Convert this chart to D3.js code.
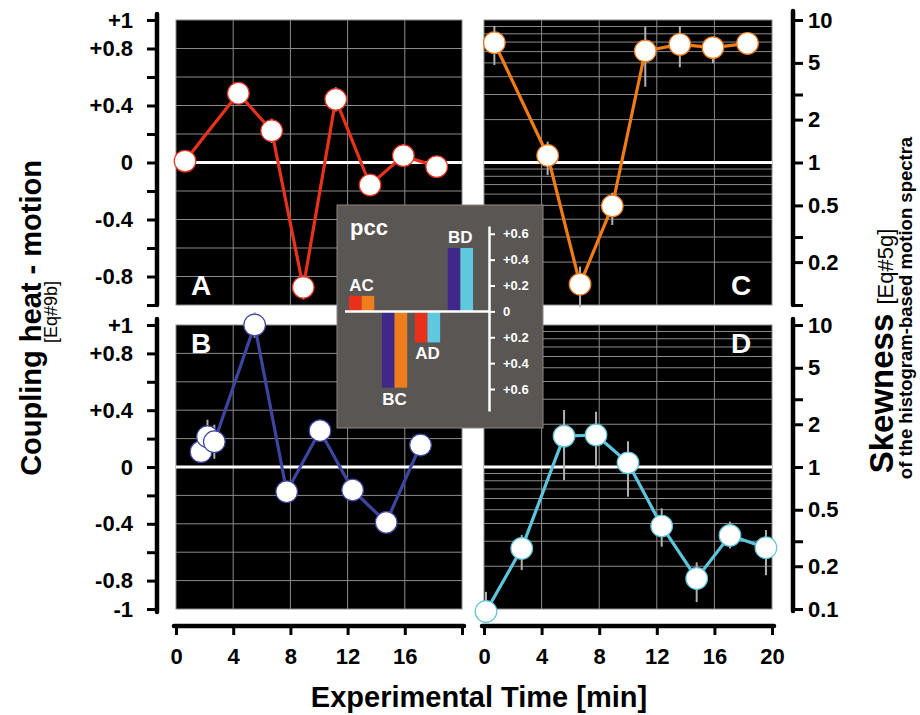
<!DOCTYPE html>
<html>
<head>
<meta charset="utf-8">
<script src="https://cdn.jsdelivr.net/npm/d3@7/dist/d3.min.js"></script>
<style>
  body { margin: 0; background: #fff; }
  svg { display: block; font-family: "Liberation Sans", Arial, Helvetica, sans-serif; }
</style>
</head>
<body>
<svg id="chart" width="920" height="715"></svg>
<script>
// ---------------- DATA ----------------
// Panel A: coupling heat-motion (red)
const timeA = [0.63, 4.36, 6.69, 8.9, 11.17, 13.57, 15.9, 18.23];
const couplingA = [0.01, 0.486, 0.223, -0.876, 0.443, -0.158, 0.048, -0.029];
const errA = [0.04, 0.05, 0.085, 0.085, 0.085, 0.05, 0.08, 0.04];
// Panel B: coupling heat-motion (blue)
const timeB = [1.75, 2.2, 2.68, 5.5, 7.74, 10.07, 12.35, 14.7, 17.1];
const couplingB = [0.108, 0.213, 0.178, 1.0, -0.174, 0.256, -0.162, -0.39, 0.155];
const errB = [0.05, 0.12, 0.12, 0.09, 0.04, 0.04, 0.04, 0.04, 0.04];
// Panel C: skewness (orange)
const timeC = [0.72, 4.42, 6.67, 8.91, 11.2, 13.6, 15.9, 18.3];
const skewC = [6.93, 1.12, 0.14, 0.495, 6.06, 6.75, 6.4, 6.86];
const skewCLow = [4.83, 0.817, 0.097, 0.364, 3.40, 4.66, 4.97, 5.68];
const skewCHigh = [9.08, 1.40, 0.186, 0.614, 8.97, 9.08, 7.44, 8.15];
// Panel D: skewness (light blue)
const timeD = [0.14, 2.62, 5.56, 7.78, 10.0, 12.34, 14.77, 17.08, 19.58];
const skewD = [0.096, 0.267, 1.65, 1.68, 1.07, 0.384, 0.164, 0.330, 0.270];
const skewDLow = [0.08, 0.188, 0.81, 1.0, 0.618, 0.275, 0.112, 0.267, 0.173];
const skewDHigh = [0.132, 0.332, 2.52, 2.45, 1.52, 0.512, 0.213, 0.412, 0.36];
// Inset: pcc bars
const pccPairs = ["AC", "BC", "AD", "BD"];
const pccValues = [0.12, -0.59, -0.24, 0.49];
const pccTicks = [0.6, 0.4, 0.2, 0, -0.2, -0.4, -0.6];
const pccTickLabels = ["+0.6", "+0.4", "+0.2", "0", "+0.2", "+0.4", "+0.6"];
// Axis ticks
const timeTicks = [0, 4, 8, 12, 16, 20];
const timeLabelsLeft = ["0", "4", "8", "12", "16", ""];
const timeLabelsRight = ["0", "4", "8", "12", "16", "20"];
const couplingTicks = [1, 0.8, 0.6, 0.4, 0.2, 0, -0.2, -0.4, -0.6, -0.8, -1];
const couplingLabelsTop = ["+1", "+0.8", "", "+0.4", "", "0", "", "-0.4", "", "-0.8", ""];
const couplingLabelsBottom = ["+1", "+0.8", "", "+0.4", "", "0", "", "-0.4", "", "-0.8", "-1"];
const skewTicks = [10, 5, 3, 2, 1, 0.5, 0.3, 0.2, 0.1];
const skewLabelsTop = ["10", "5", "", "2", "1", "0.5", "", "0.2", ""];
const skewLabelsBottom = ["10", "5", "", "2", "1", "0.5", "", "0.2", "0.1"];
const skewGrid = [0.2, 0.3, 0.4, 0.5, 0.6, 0.7, 0.8, 0.9, 2, 3, 4, 5, 6, 7, 8, 9];
const timeGrid = [4, 8, 12, 16];
const couplingGrid = [0.8, 0.6, 0.4, 0.2, -0.2, -0.4, -0.6, -0.8];

// colors
const colA = "#e8321c", colB = "#3c46a0", colC = "#f07c16", colD = "#5ec4db";
const barRed = "#e8301a", barOrange = "#f07d1d", barPurple = "#40288a", barCyan = "#5ec8de";
const gridCol = "#8a8a8a";

// ---------------- SCALES ----------------
const svg = d3.select("#chart");
const xLeft = d3.scaleLinear().domain([0, 20]).range([176, 462]);
const xRight = d3.scaleLinear().domain([0, 20]).range([484, 772]);
const yTopLin = d3.scaleLinear().domain([-1, 1]).range([305, 20]);
const yBotLin = d3.scaleLinear().domain([-1, 1]).range([609, 325]);
const yTopLog = d3.scaleLog().domain([0.1, 10]).range([305, 20]);
const yBotLog = d3.scaleLog().domain([0.1, 10]).range([609, 325]);

// ---------------- PANELS ----------------
function panel(x, y, gridY, zeroVal, letter, letterPos) {
  const g = svg.append("g");
  const [x0, x1] = x.range();
  const [y0, y1] = [y.range()[1], y.range()[0]];
  g.append("rect").attr("x", x0).attr("y", y0).attr("width", x1 - x0).attr("height", y1 - y0)
    .attr("fill", "#000").attr("stroke", gridCol).attr("stroke-width", 1);
  g.selectAll(".vg").data(timeGrid).join("line")
    .attr("x1", d => x(d)).attr("x2", d => x(d)).attr("y1", y0).attr("y2", y1)
    .attr("stroke", gridCol).attr("stroke-width", 1);
  g.selectAll(".hg").data(gridY).join("line")
    .attr("x1", x0).attr("x2", x1).attr("y1", d => y(d)).attr("y2", d => y(d))
    .attr("stroke", gridCol).attr("stroke-width", 1);
  g.append("line").attr("x1", x0).attr("x2", x1).attr("y1", y(zeroVal)).attr("y2", y(zeroVal))
    .attr("stroke", "#fff").attr("stroke-width", 3);
  g.append("text").attr("x", letterPos === "left" ? x0 + 15 : x1 - 41)
    .attr("y", letter === "A" || letter === "C" ? y1 - 10 : y0 + 28)
    .attr("fill", "#fff").attr("font-size", 28).attr("font-weight", "bold").text(letter);
  return g;
}

function series(g, x, y, xs, ys, lo, hi, color) {
  const idx = d3.range(xs.length);
  g.selectAll(".err").data(idx).join("line")
    .attr("x1", i => x(xs[i])).attr("x2", i => x(xs[i]))
    .attr("y1", i => y(lo[i])).attr("y2", i => y(hi[i]))
    .attr("stroke", "#b0b0b0").attr("stroke-width", 2);
  const line = d3.line().x(i => x(xs[i])).y(i => y(ys[i]));
  g.append("path").attr("d", line(idx)).attr("fill", "none").attr("stroke", color)
    .attr("stroke-width", 3.2).attr("stroke-linejoin", "round");
  g.selectAll(".pt").data(idx).join("circle")
    .attr("cx", i => x(xs[i])).attr("cy", i => y(ys[i])).attr("r", 10.8)
    .attr("fill", "#fff").attr("stroke", color).attr("stroke-width", 1.2);
}

const gA = panel(xLeft, yTopLin, couplingGrid, 0, "A", "left");
series(gA, xLeft, yTopLin, timeA, couplingA,
  couplingA.map((v, i) => v - errA[i]), couplingA.map((v, i) => v + errA[i]), colA);
const gB = panel(xLeft, yBotLin, couplingGrid, 0, "B", "left");
series(gB, xLeft, yBotLin, timeB, couplingB,
  couplingB.map((v, i) => v - errB[i]), couplingB.map((v, i) => v + errB[i]), colB);
const gC = panel(xRight, yTopLog, skewGrid, 1, "C", "right");
series(gC, xRight, yTopLog, timeC, skewC, skewCLow, skewCHigh, colC);
const gD = panel(xRight, yBotLog, skewGrid, 1, "D", "right");
series(gD, xRight, yBotLog, timeD, skewD, skewDLow, skewDHigh, colD);

// ---------------- AXES ----------------
function styleAxis(g) {
  g.select(".domain").remove();
  g.selectAll(".tick line").attr("stroke", "#000").attr("stroke-width", 3);
  g.selectAll(".tick text").attr("fill", "#000").attr("font-size", 22).attr("font-weight", "bold")
    .attr("font-family", "'Liberation Sans', Arial, sans-serif");
}
function vAxis(scale, ticks, labels, side, xPos, ext) {
  const ax = (side === "left" ? d3.axisLeft(scale) : d3.axisRight(scale))
    .tickValues(ticks).tickSize(10).tickSizeOuter(0)
    .tickPadding(side === "left" ? 14 : 5)
    .tickFormat((d, i) => labels[i]);
  const g = svg.append("g").attr("transform", `translate(${xPos},0)`).call(ax);
  styleAxis(g);
  const r = scale.range();
  g.append("line").attr("x1", 0).attr("x2", 0)
    .attr("y1", Math.min(...r) - ext[0]).attr("y2", Math.max(...r) + ext[1])
    .attr("stroke", "#000").attr("stroke-width", 4.5).attr("stroke-linecap", "round");
}
vAxis(yTopLin, couplingTicks, couplingLabelsTop, "left", 157, [6, 0]);
vAxis(yBotLin, couplingTicks, couplingLabelsBottom, "left", 157, [6, 3]);
vAxis(yTopLog, skewTicks, skewLabelsTop, "right", 793, [9, 0]);
vAxis(yBotLog, skewTicks, skewLabelsBottom, "right", 793, [6, 2]);

function hAxis(scale, labels) {
  const ax = d3.axisBottom(scale).tickValues(timeTicks).tickSize(9).tickSizeOuter(0)
    .tickPadding(13).tickFormat((d, i) => labels[i]);
  const g = svg.append("g").attr("transform", "translate(0,626)").call(ax);
  styleAxis(g);
  const r = scale.range();
  g.append("line").attr("x1", r[0] - 2).attr("x2", r[1] + 2).attr("y1", 0).attr("y2", 0)
    .attr("stroke", "#000").attr("stroke-width", 4.5).attr("stroke-linecap", "round");
}
hAxis(xLeft, timeLabelsLeft);
hAxis(xRight, timeLabelsRight);

// ---------------- TITLES ----------------
svg.append("text").attr("x", 479).attr("y", 707).attr("text-anchor", "middle")
  .attr("font-size", 29).attr("font-weight", "bold").text("Experimental Time [min]");
svg.append("text").attr("transform", "translate(41,318) rotate(-90)").attr("text-anchor", "middle")
  .attr("font-size", 29).attr("font-weight", "bold").text("Coupling heat - motion");
svg.append("text").attr("transform", "translate(57,312) rotate(-90)").attr("text-anchor", "middle")
  .attr("font-size", 18).text("[Eq#9b]");
const rt = svg.append("text").attr("transform", "translate(893,351) rotate(-90)").attr("text-anchor", "middle");
rt.append("tspan").attr("font-size", 33).attr("font-weight", "bold").text("Skewness ");
rt.append("tspan").attr("font-size", 22).text("[Eq#5g]");
svg.append("text").attr("transform", "translate(912,308) rotate(-90)").attr("text-anchor", "middle")
  .attr("font-size", 18.5).attr("font-weight", "bold").text("of the histogram-based motion spectra");

// ---------------- INSET (pcc) ----------------
const inset = svg.append("g");
inset.append("rect").attr("x", 337).attr("y", 205).attr("width", 206).attr("height", 223)
  .attr("fill", "#595654").attr("stroke", "#8a8886").attr("stroke-width", 1);
inset.append("text").attr("x", 350).attr("y", 235).attr("fill", "#fff")
  .attr("font-size", 22).attr("font-weight", "bold").text("pcc");
const yP = d3.scaleLinear().domain([-0.77, 0.66]).range([411, 226]);
const xP = d3.scaleBand().domain(pccPairs).range([345, 477]).paddingInner(0.23).paddingOuter(0.12);
const xSub = d3.scaleBand().domain([0, 1]).range([0, xP.bandwidth()]);
const pairColors = { A: barRed, B: barPurple, C: barOrange, D: barCyan };
pccPairs.forEach((p, i) => {
  const v = pccValues[i];
  [0, 1].forEach(k => {
    inset.append("rect").attr("x", xP(p) + xSub(k)).attr("width", xSub.bandwidth())
      .attr("y", yP(Math.max(0, v))).attr("height", Math.abs(yP(v) - yP(0)))
      .attr("fill", pairColors[p[k]]);
  });
  inset.append("text").attr("x", xP(p) + xP.bandwidth() / 2)
    .attr("y", v >= 0 ? yP(v) - 5 : yP(v) + 17)
    .attr("text-anchor", "middle").attr("fill", "#fff")
    .attr("font-size", 17).attr("font-weight", "bold").text(p);
});
inset.append("line").attr("x1", 345).attr("x2", 489).attr("y1", yP(0)).attr("y2", yP(0))
  .attr("stroke", "#fff").attr("stroke-width", 2.5);
const pAx = d3.axisRight(yP).tickValues(pccTicks).tickSize(6).tickSizeOuter(0).tickPadding(8)
  .tickFormat((d, i) => pccTickLabels[i]);
const gp = inset.append("g").attr("transform", "translate(489,0)").call(pAx);
gp.select(".domain").attr("stroke", "#fff").attr("stroke-width", 2.5);
gp.selectAll(".tick line").attr("stroke", "#fff").attr("stroke-width", 2);
gp.selectAll(".tick text").attr("fill", "#fff").attr("font-size", 13).attr("font-weight", "bold")
  .attr("font-family", "'Liberation Sans', Arial, sans-serif");
</script>
</body>
</html>
